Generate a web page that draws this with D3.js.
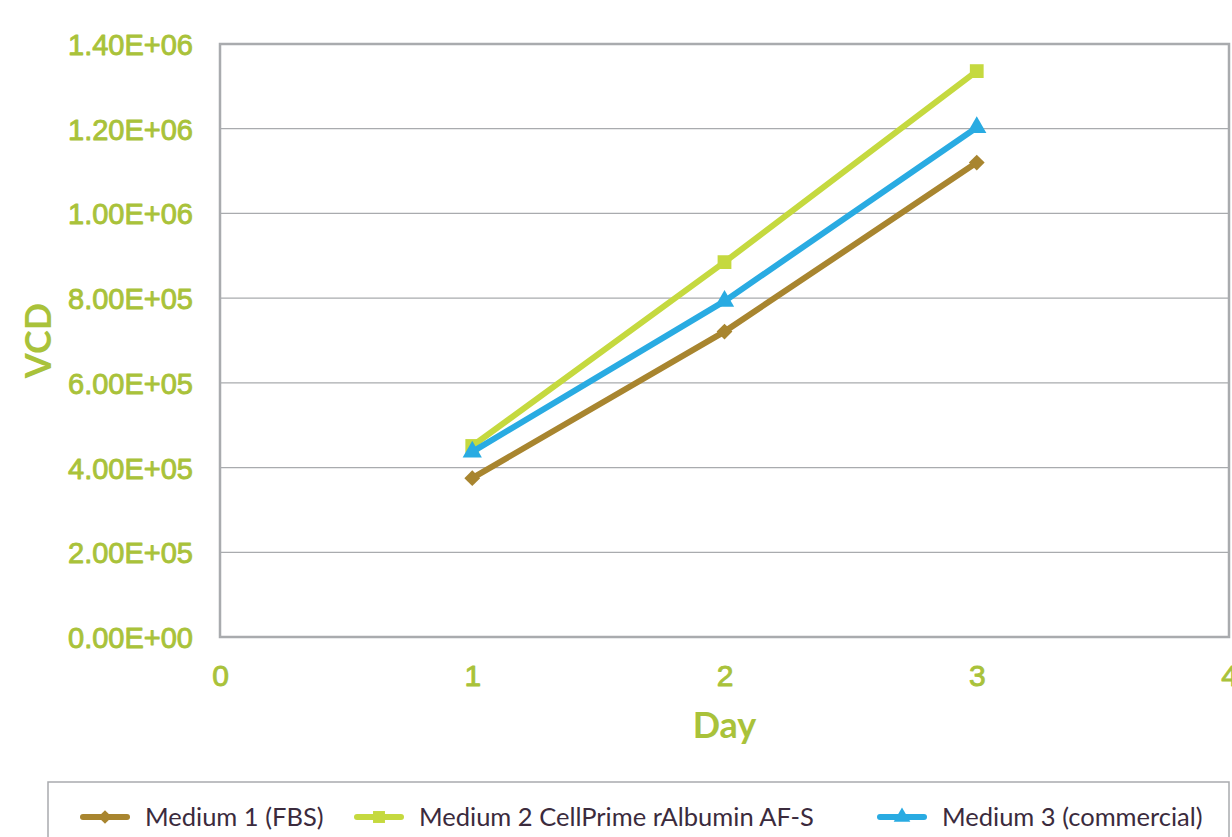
<!DOCTYPE html>
<html>
<head>
<meta charset="utf-8">
<script src="https://cdn.jsdelivr.net/npm/d3@7/dist/d3.min.js"></script>
<style>
  html, body { margin: 0; padding: 0; background: #fff; }
  svg { display: block; font-family: Lato, "Open Sans", sans-serif; }
</style>
</head>
<body>
<svg id="chart" width="1232" height="837"></svg>
<script>
// Viable cell density by day for three culture media
const days = [1, 2, 3];
const medium1 = [375000, 721000, 1120000];
const medium2 = [451000, 885000, 1336000];
const medium3 = [437000, 793000, 1203000];
const seriesNames = ["Medium 1 (FBS)", "Medium 2 CellPrime rAlbumin AF-S", "Medium 3 (commercial)"];
const yTicks = [0, 200000, 400000, 600000, 800000, 1000000, 1200000, 1400000];
const xTicks = [0, 1, 2, 3, 4];

const series = [
  { name: seriesNames[0], values: medium1, color: "#a8852f", symbol: d3.symbolSquare, size: 125, rot: 45 },
  { name: seriesNames[1], values: medium2, color: "#c5d93f", symbol: d3.symbolSquare, size: 190, rot: 0 },
  { name: seriesNames[2], values: medium3, color: "#29abe2", symbol: d3.symbolTriangle, size: 160, rot: 0 }
];

const svg = d3.select("#chart");
const plot = { left: 220, top: 44, right: 1229, bottom: 637 };

const x = d3.scaleLinear().domain([0, 4]).range([plot.left, plot.right]);
const y = d3.scaleLinear().domain([0, 1400000]).range([plot.bottom, plot.top]);

const labelColor = "#a9c23a";
const gridColor = "#a9abae";

// Horizontal grid lines
svg.append("g")
  .selectAll("line")
  .data(yTicks.slice(1, -1))
  .join("line")
  .attr("x1", plot.left).attr("x2", plot.right)
  .attr("y1", d => y(d)).attr("y2", d => y(d))
  .attr("stroke", gridColor).attr("stroke-width", 1.2);

// Plot frame
svg.append("rect")
  .attr("x", plot.left).attr("y", plot.top)
  .attr("width", plot.right - plot.left).attr("height", plot.bottom - plot.top)
  .attr("fill", "none").attr("stroke", gridColor).attr("stroke-width", 2.5);

// Medium-weight tick text: regular face with a thin outline in the same colour
const medium = sel => sel
  .attr("fill", labelColor)
  .attr("stroke", labelColor)
  .attr("stroke-width", 0.9)
  .attr("stroke-linejoin", "round");

// Y axis labels
const fmt = v => {
  if (v === 0) return "0.00E+00";
  const e = Math.floor(Math.log10(v));
  const m = v / Math.pow(10, e);
  return m.toFixed(2) + "E+" + String(e).padStart(2, "0");
};
const yAxis = d3.axisLeft(y).tickValues(yTicks).tickFormat(fmt).tickSize(0).tickPadding(27);
const gy = svg.append("g").attr("transform", `translate(${plot.left},0)`).call(yAxis);
gy.select(".domain").remove();
gy.selectAll("text")
  .call(medium)
  .style("font-size", "29px")
  .style("font-weight", "400")
  .attr("dy", "0.36em");

// X axis labels
const xAxis = d3.axisBottom(x).tickValues(xTicks).tickFormat(d3.format("d")).tickSize(0).tickPadding(28);
const gx = svg.append("g").attr("transform", `translate(0,${plot.bottom})`).call(xAxis);
gx.select(".domain").remove();
gx.selectAll("text")
  .call(medium)
  .style("font-size", "30px")
  .style("font-weight", "400");

// Axis titles
svg.append("text")
  .attr("x", x(2)).attr("y", 738)
  .attr("text-anchor", "middle")
  .attr("fill", labelColor)
  .style("font-size", "36px").style("font-weight", "700")
  .text("Day");

svg.append("text")
  .attr("transform", `translate(51,${(plot.top + plot.bottom) / 2}) rotate(-90)`)
  .attr("text-anchor", "middle")
  .attr("fill", labelColor)
  .style("font-size", "36px").style("font-weight", "700")
  .text("VCD");

// Lines and markers
const line = d3.line().x((d, i) => x(days[i])).y(d => y(d));
series.forEach(s => {
  svg.append("path")
    .datum(s.values)
    .attr("d", line)
    .attr("fill", "none")
    .attr("stroke", s.color)
    .attr("stroke-width", 6);
  svg.append("g")
    .selectAll("path")
    .data(s.values)
    .join("path")
    .attr("transform", (d, i) => `translate(${x(days[i])},${y(d)}) rotate(${s.rot})`)
    .attr("d", d3.symbol().type(s.symbol).size(s.size))
    .attr("fill", s.color);
});

// Legend
svg.append("rect")
  .attr("x", 48).attr("y", 782)
  .attr("width", 1181).attr("height", 80)
  .attr("fill", "none").attr("stroke", gridColor).attr("stroke-width", 1.5);

const legendX = [83, 357, 880];
series.forEach((s, i) => {
  const g = svg.append("g").attr("transform", `translate(${legendX[i]},817)`);
  g.append("line").attr("x1", 0).attr("x2", 44).attr("y1", 0).attr("y2", 0)
    .attr("stroke", s.color).attr("stroke-width", 6).attr("stroke-linecap", "round");
  g.append("path")
    .attr("transform", `translate(22,0) rotate(${s.rot})`)
    .attr("d", d3.symbol().type(s.symbol).size(s.size * 0.75))
    .attr("fill", s.color);
  g.append("text")
    .attr("x", 62).attr("y", 0).attr("dy", "0.35em")
    .attr("fill", "#3b2b3d")
    .style("font-size", "25.5px").style("font-weight", "400")
    .text(s.name);
});
</script>
</body>
</html>
